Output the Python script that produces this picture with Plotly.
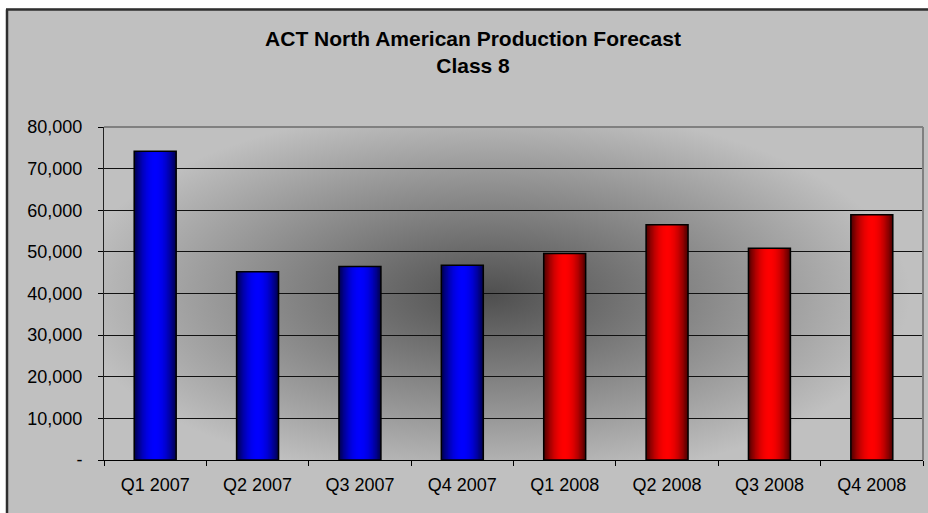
import base64
import plotly.graph_objects as go

# ---- data ----
quarters = ["Q1 2007", "Q2 2007", "Q3 2007", "Q4 2007",
            "Q1 2008", "Q2 2008", "Q3 2008", "Q4 2008"]
production = [74200, 45200, 46500, 46800, 49600, 56500, 50900, 58900]
y_tick_values = [0, 10000, 20000, 30000, 40000, 50000, 60000, 70000, 80000]
y_tick_labels = ["-", "10,000", "20,000", "30,000", "40,000",
                 "50,000", "60,000", "70,000", "80,000"]
title_lines = ["ACT North American Production Forecast", "Class 8"]

# ---- styling ----
W, H = 928, 513
ML, MR, MT, MB = 104, 5, 127, 53
PW, PH = W - ML - MR, H - MT - MB
FONT = "Liberation Sans, Arial, sans-serif"
year_base = {"2007": (0, 0, 255), "2008": (255, 0, 0)}
base_cols = [year_base[q.split()[1]] for q in quarters]

def shade(rgb, s):
    return "rgb(%d,%d,%d)" % tuple(int(round(c * s)) for c in rgb)

BAR_W = 0.41
N_LAYERS = 16
DARK = 0.32

fig = go.Figure()
for k in range(N_LAYERS):
    f = 1 - k / N_LAYERS
    s = DARK + (1 - DARK) * (1 - f ** 2)
    fig.add_trace(go.Bar(
        x=quarters, y=production, width=BAR_W * f,
        marker=dict(color=[shade(c, s) for c in base_cols], line=dict(width=0)),
        hoverinfo="skip" if k else "x+y", showlegend=False))
# outline
fig.add_trace(go.Bar(
    x=quarters, y=production, width=BAR_W,
    marker=dict(color="rgba(0,0,0,0)", line=dict(color="#000000", width=1.5)),
    hoverinfo="skip", showlegend=False))

# radial background gradient for the plot area (SVG)
cx, cy = 490 - ML, 295 - MT
svg = f'''<svg xmlns="http://www.w3.org/2000/svg" width="{PW}" height="{PH}" viewBox="0 0 {PW} {PH}" preserveAspectRatio="none">
<defs><radialGradient id="g" gradientUnits="userSpaceOnUse" cx="0" cy="0" r="1"
 gradientTransform="translate({cx},{cy}) scale(420,190)">
<stop offset="0" stop-color="#4f4f4f"/><stop offset="1" stop-color="#c0c0c0"/>
</radialGradient></defs>
<rect x="0" y="0" width="{PW}" height="{PH}" fill="url(#g)"/></svg>'''
src = "data:image/svg+xml;base64," + base64.b64encode(svg.encode()).decode()

def px_x(p):
    return (p - ML) / PW

def px_y(p):
    return (H - MB - p) / PH

shapes = [
    # white strips outside the chart frame
    dict(type="rect", xref="paper", yref="paper", x0=-0.3, x1=1.3,
         y0=px_y(8.5), y1=1.6, fillcolor="#ffffff", line=dict(width=0), layer="above"),
    dict(type="rect", xref="paper", yref="paper", x0=-0.3, x1=px_x(6),
         y0=-0.3, y1=1.6, fillcolor="#ffffff", line=dict(width=0), layer="above"),
    # chart frame border
    dict(type="line", xref="paper", yref="paper", x0=px_x(6), x1=1.3,
         y0=px_y(9.5), y1=px_y(9.5), line=dict(color="#2f2f2f", width=2.5), layer="above"),
    dict(type="line", xref="paper", yref="paper", x0=px_x(7), x1=px_x(7),
         y0=-0.3, y1=px_y(9.5), line=dict(color="#2f2f2f", width=2.5), layer="above"),
    # plot area border (top & right)
    dict(type="line", xref="paper", yref="paper", x0=0, x1=1, y0=1, y1=1,
         line=dict(color="#808080", width=2), layer="above"),
    dict(type="line", xref="paper", yref="paper", x0=1, x1=1, y0=0, y1=1,
         line=dict(color="#808080", width=2), layer="above"),
]

fig.update_layout(
    width=W, height=H,
    margin=dict(l=ML, r=MR, t=MT, b=MB, autoexpand=False),
    paper_bgcolor="#c0c0c0", plot_bgcolor="#c0c0c0",
    barmode="overlay",
    font=dict(family=FONT, size=18, color="#000000"),
    title=dict(text="<b>" + title_lines[0] + "</b><br><b>" + title_lines[1] + "</b>",
               font=dict(family=FONT, size=21, color="#000000"),
               x=473 / W, xanchor="center", xref="container",
               y=1 - 46 / H, yanchor="top", yref="container"),
    images=[dict(source=src, xref="paper", yref="paper", x=0, y=1,
                 sizex=1, sizey=1, xanchor="left", yanchor="top",
                 sizing="stretch", layer="below")],
    shapes=shapes,
    xaxis=dict(type="category", tickson="boundaries", ticks="outside", ticklen=5,
               tickcolor="#000000", showline=True, linecolor="#000000", linewidth=1,
               showgrid=False, ticklabelstandoff=8,
               tickfont=dict(family=FONT, size=18, color="#000000")),
    yaxis=dict(range=[0, 80000], tickvals=y_tick_values, ticktext=y_tick_labels,
               ticks="outside", ticklen=5, tickcolor="#000000",
               showline=True, linecolor="#222222", linewidth=1,
               showgrid=True, gridcolor="#111111", gridwidth=1,
               zeroline=False, ticklabelstandoff=12,
               tickfont=dict(family=FONT, size=18, color="#000000")),
)

fig.write_html("out.html")
